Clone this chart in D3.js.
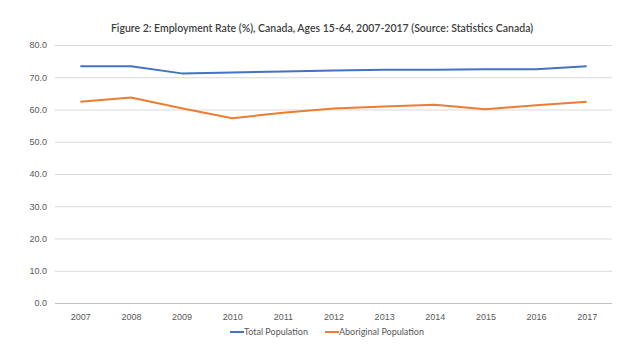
<!DOCTYPE html>
<html>
<head>
<meta charset="utf-8">
<script src="https://cdn.jsdelivr.net/npm/d3@7"></script>
<style>
    body { margin: 0; background: #fff; }
    svg { display: block; font-family: Lato, "Open Sans", sans-serif; }
    .title { font-size: 10.5px; font-weight: 600; fill: #404040; }
    .tick text { font-size: 9px; fill: #595959; }
    .legend text { font-size: 9px; fill: #595959; }
</style>
</head>
<body>
<div id="chart"></div>
<script>
// Data -----------------------------------------------------------------------

const YEARS = ["2007", "2008", "2009", "2010", "2011", "2012",
    "2013", "2014", "2015", "2016", "2017"];
const TOTAL = [73.4, 73.4, 71.2, 71.5, 71.8, 72.1, 72.3, 72.3, 72.5, 72.5, 73.4];
const ABORIGINAL = [62.4, 63.7, 60.4, 57.3, 59.0, 60.3, 60.9, 61.5, 60.1, 61.3, 62.4];
const Y_TICKS = [0, 10, 20, 30, 40, 50, 60, 70, 80];

const SERIES = [
    {name: "Total Population", values: TOTAL, colour: "#4472c4"},
    {name: "Aboriginal Population", values: ABORIGINAL, colour: "#ed7d31"}
];

// Chart ----------------------------------------------------------------------

const width = 640;
const height = 360;
const margin = {top: 45, right: 28, bottom: 57, left: 55};

const svg = d3.select("#chart")
    .append("svg")
    .attr("width", width)
    .attr("height", height);

svg.append("text")
    .attr("class", "title")
    .attr("x", 322)
    .attr("y", 32)
    .attr("text-anchor", "middle")
    .text("Figure 2: Employment Rate (%), Canada, Ages 15-64, 2007-2017 (Source: Statistics Canada)");

const xscale = d3.scalePoint()
    .domain(YEARS)
    .range([margin.left, width - margin.right])
    .padding(0.5);

const yscale = d3.scaleLinear()
    .domain([0, 80])
    .range([height - margin.bottom, margin.top]);

// Gridlines and y labels
const yaxis = d3.axisLeft(yscale)
    .tickValues(Y_TICKS)
    .tickFormat(d3.format(".1f"))
    .tickSize(-(width - margin.left - margin.right));

svg.append("g")
    .attr("class", "yaxis")
    .attr("transform", `translate(${margin.left},0)`)
    .call(yaxis)
    .call(g => g.select(".domain").remove())
    .call(g => g.selectAll(".tick line")
        .attr("stroke", d => d === 0 ? "#bfbfbf" : "#d9d9d9")
        .attr("stroke-width", 1))
    .call(g => g.selectAll(".tick text").attr("x", -8));

// x labels
const xaxis = d3.axisBottom(xscale)
    .tickSize(0)
    .tickPadding(11);

svg.append("g")
    .attr("class", "xaxis")
    .attr("transform", `translate(0,${height - margin.bottom})`)
    .call(xaxis)
    .call(g => g.select(".domain").remove());

// Lines
const line = d3.line()
    .x((d, i) => xscale(YEARS[i]))
    .y(d => yscale(d));

svg.selectAll(".series")
    .data(SERIES)
    .enter()
    .append("path")
    .attr("class", "series")
    .attr("fill", "none")
    .attr("stroke", d => d.colour)
    .attr("stroke-width", 2)
    .attr("stroke-linejoin", "round")
    .attr("d", d => line(d.values));

// Legend
const legend = svg.append("g")
    .attr("class", "legend")
    .attr("transform", "translate(230,332)");

const legendX = [0, 95];

SERIES.forEach((s, i) => {
    const item = legend.append("g")
        .attr("transform", `translate(${legendX[i]},0)`);
    item.append("line")
        .attr("x1", 0)
        .attr("x2", 14)
        .attr("stroke", s.colour)
        .attr("stroke-width", 2);
    item.append("text")
        .attr("x", 14)
        .attr("dy", "0.35em")
        .text(s.name);
});
</script>
</body>
</html>
